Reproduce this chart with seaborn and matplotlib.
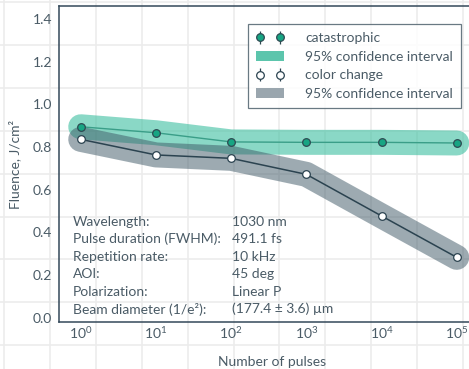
import matplotlib
matplotlib.use("Agg")
import matplotlib.pyplot as plt
import seaborn as sns
import pandas as pd
import numpy as np
from matplotlib.lines import Line2D
from matplotlib.patches import Patch

# ---- data ----
pulses = [1, 10, 100, 1000, 10000, 100000]
catastrophic = [0.895, 0.867, 0.824, 0.822, 0.822, 0.819]
color_change = [0.836, 0.763, 0.747, 0.672, 0.477, 0.283]
xtick_values = [1, 10, 100, 1000, 10000, 100000]
xtick_labels = [r"$10^{0}$", r"$10^{1}$", r"$10^{2}$", r"$10^{3}$", r"$10^{4}$", r"$10^{5}$"]
ytick_values = [0.0, 0.2, 0.4, 0.6, 0.8, 1.0, 1.2, 1.4]
info_keys = ["Wavelength:", "Pulse duration (FWHM):", "Repetition rate:", "AOI:",
             "Polarization:", "Beam diameter (1/e²):"]
info_vals = ["1030 nm", "491.1 fs", "10 kHz", "45 deg", "Linear P", "(177.4 ± 3.6) µm"]
legend_labels = ["catastrophic", "95% confidence interval", "color change", "95% confidence interval"]

df = pd.DataFrame({"pulses": pulses, "catastrophic": catastrophic, "color_change": color_change})

sns.set_theme(style="white")
plt.rcParams["font.family"] = ["Lato", "DejaVu Sans"]
plt.rcParams["mathtext.fontset"] = "custom"
plt.rcParams["mathtext.rm"] = "Lato"
plt.rcParams["mathtext.it"] = "Lato:italic"
plt.rcParams["mathtext.default"] = "regular"

TXT = "#4a5b66"
SPINE = "#34495a"
TEAL_BAND = "#3dbfa0"
GRAY_BAND = "#3d5765"
TEAL_PT = "#17a583"
DARK = "#2b4350"

W, H = 469, 369
fig = plt.figure(figsize=(W / 100, H / 100), dpi=100)
fig.patch.set_facecolor("white")

# graph-paper background
for k in range(11):
    x = (4 + 45.9 * k) / W
    fig.add_artist(Line2D([x, x], [0, 1], transform=fig.transFigure, color="#ececec", lw=1.2, zorder=-5))
for k in range(10):
    y = 1 - (2 + 42.9 * k) / H
    fig.add_artist(Line2D([0, 1], [y, y], transform=fig.transFigure, color="#ececec", lw=1.2, zorder=-5))

left, right, top, bottom = 59, 485, 6, 322
ax = fig.add_axes([left / W, 1 - bottom / H, (right - left) / W, (bottom - top) / H])
ax.set_facecolor("none")

# confidence bands (thick rounded strokes)
sns.lineplot(data=df, x="pulses", y="catastrophic", ax=ax, color=TEAL_BAND, alpha=0.6,
             linewidth=18, solid_capstyle="round", solid_joinstyle="round", zorder=1)
sns.lineplot(data=df, x="pulses", y="color_change", ax=ax, color=GRAY_BAND, alpha=0.5,
             linewidth=18, solid_capstyle="round", solid_joinstyle="round", zorder=2)
# connecting lines
sns.lineplot(data=df, x="pulses", y="catastrophic", ax=ax, color="#3a9e88", linewidth=1.0, zorder=3)
sns.lineplot(data=df, x="pulses", y="color_change", ax=ax, color=DARK, linewidth=1.1, zorder=3)
# markers via errorbar (for legend style)
eb1 = ax.errorbar(pulses, catastrophic, yerr=np.zeros(len(pulses)), fmt="o", ms=5.5,
                  mfc=TEAL_PT, mec="#2e4a52", mew=0.9, ecolor="#2e4a52", elinewidth=0.9, zorder=4)
eb2 = ax.errorbar(pulses, color_change, yerr=np.zeros(len(pulses)), fmt="o", ms=5.5,
                  mfc="white", mec=DARK, mew=0.9, ecolor=DARK, elinewidth=0.9, zorder=4)

ax.set_xscale("log")
ax.set_xlim(0.514, 237700)
ax.set_ylim(-0.020, 1.461)
ax.set_xticks(xtick_values)
ax.set_xticklabels(xtick_labels)
ax.minorticks_off()
ax.set_yticks(ytick_values)
ax.set_yticklabels([f"{v:.1f}" for v in ytick_values])
ax.tick_params(axis="both", length=0, labelsize=10, labelcolor=TXT)
ax.tick_params(axis="y", pad=5)
ax.tick_params(axis="x", pad=2)
ax.set_xlabel("Number of pulses", fontsize=10, color=TXT, labelpad=11)
ax.set_ylabel("Fluence, J/cm²", fontsize=10, color=TXT, labelpad=8)
ax.grid(False)
for s in ["left", "top", "bottom", "right"]:
    ax.spines[s].set_color(SPINE)
    ax.spines[s].set_linewidth(1.1)

handles = [eb1, Patch(facecolor="#5cc5ac", edgecolor="none"),
           eb2, Patch(facecolor="#9aa6ae", edgecolor="none")]
leg = ax.legend(handles, legend_labels, loc="upper right",
                bbox_to_anchor=((461 - left) / (right - left), (bottom - 24) / (bottom - top)),
                borderaxespad=0, fontsize=10, numpoints=2, handlelength=2.0, handletextpad=1.5,
                labelspacing=0.47, fancybox=False, frameon=True, framealpha=0.85,
                edgecolor="#4f626d", borderpad=0.6)
leg.get_frame().set_linewidth(0.9)
for t in leg.get_texts():
    t.set_color(TXT)

for i, (k, v) in enumerate(zip(info_keys, info_vals)):
    yc = 1 - (221.7 + 17.5 * i) / H
    fig.text(73 / W, yc, k, fontsize=10, color=TXT, va="center", ha="left")
    fig.text(232 / W, yc, v, fontsize=10, color=TXT, va="center", ha="left")

fig.savefig("out.png", dpi=100)
